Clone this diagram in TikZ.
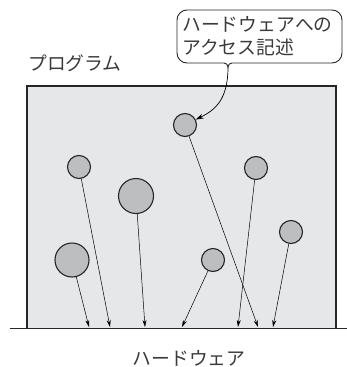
\documentclass[tikz,border=0pt]{standalone}
\usepackage{fontspec}
\newfontfamily\jp{Noto Sans CJK JP}
\usetikzlibrary{arrows.meta}
\definecolor{boxfill}{HTML}{E6E7E8}
\definecolor{dotfill}{HTML}{BCBEC0}
\definecolor{txt}{HTML}{3A3A3A}
\tikzset{
  dot/.style={circle,draw=black!85,line width=1.1pt,fill=dotfill,inner sep=0pt,minimum size=#1},
  acc/.style={line width=0.5pt,-{Stealth[length=7pt,width=4pt]}},
  lbl/.style={text=txt,font=\jp\fontsize{18.8}{22.5}\selectfont,inner sep=0pt}
}
\begin{document}
\begin{tikzpicture}[x=1pt,y=-1pt]
\useasboundingbox (0,0) rectangle (347,367);
% program box
\fill[boxfill] (27,86) rectangle (336,328);
\draw[line width=1.1pt,black!85] (27,328) -- (27,86) -- (336,86) -- (336,328);
\draw[line width=1pt,black!85] (10,328) -- (347,328);
% labels
\node[lbl,anchor=west] (prog) at (28,63) {プログラム};
\node[lbl] (hw) at (189,358) {ハードウェア};
% callout
\draw[line width=0.9pt,black!85,rounded corners=10pt]
  (224,63) -- (177,63) -- (177,10) -- (342,10) -- (342,63) -- (232,63);
\draw[line width=0.9pt,black!85] (224,63) to[out=0,in=90] (228,67) to[out=90,in=180] (232,63);
\node[lbl,align=left,anchor=west] (call) at (182,36) {ハードウェアへの\\アクセス記述};
\coordinate (tail) at (228,67);
% dots
\node[dot=23pt] (c1) at (185,125) {};
\node[dot=23pt] (c2) at (79,167) {};
\node[dot=35pt] (c3) at (136,196) {};
\node[dot=34pt] (c4) at (72,260) {};
\node[dot=23pt] (c5) at (213,260) {};
\node[dot=23pt] (c6) at (256,168) {};
\node[dot=23pt] (c7) at (291,232) {};
% targets
\coordinate (h4) at (89,327);
\coordinate (h2) at (110,327);
\coordinate (h3) at (145,327);
\coordinate (h5) at (182,327);
\coordinate (h6) at (238,327);
\coordinate (h1) at (258,327);
\coordinate (h7) at (273,327);
\draw[acc] (c4) -- (h4);
\draw[acc] (c2) -- (h2);
\draw[acc] (c3) -- (h3);
\draw[acc] (c5) -- (h5);
\draw[acc] (c6) -- (h6);
\draw[acc] (c1) -- (h1);
\draw[acc] (c7) -- (h7);
\draw[line width=0.7pt,-{Stealth[length=8pt,width=5pt]}] (tail) .. controls (228,100) and (215,110) .. (c1);
\end{tikzpicture}
\end{document}
